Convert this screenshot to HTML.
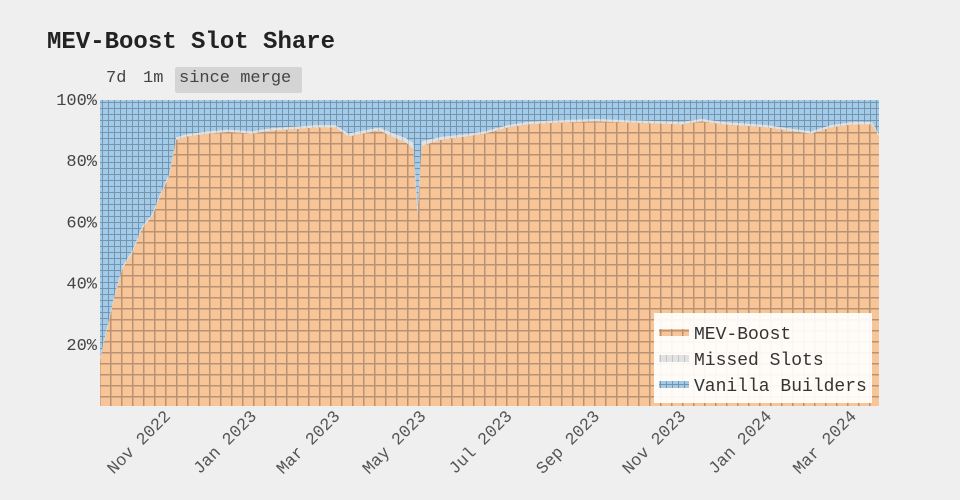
<!DOCTYPE html>
<html><head><meta charset="utf-8">
<style>
body{margin:0;background:#efefef;font-family:"Liberation Mono",monospace;}
#wrap{position:relative;width:960px;height:500px;overflow:hidden;}
#title{position:absolute;left:47px;top:29px;font-size:24px;font-weight:bold;color:#222;}
.btn{position:absolute;top:67px;height:26px;line-height:24px;font-size:17px;color:#444;padding:0 4px;}
</style></head><body>
<div id="wrap">
<div id="title">MEV-Boost Slot Share</div>
<div class="btn" style="left:102px">7d</div>
<div class="btn" style="left:139px">1m</div>
<div class="btn" style="left:175px;background:#d4d4d4;border-radius:2px;width:119px">since merge</div>
<svg id="chart" width="960" height="500" style="position:absolute;left:0;top:0">
<defs>
<pattern id="pBlue" width="6" height="6" patternUnits="userSpaceOnUse"><rect width="6" height="6" fill="#a2cbea"/><path d="M0 0.5H6M0.5 0V6" stroke="#7894ad" stroke-width="1"/></pattern>
<pattern id="pOrange" width="11" height="11" patternUnits="userSpaceOnUse"><rect width="11" height="11" fill="#f8c598"/><path d="M0 0.75H11M0.75 0V11" stroke="#b89272" stroke-width="1.5"/></pattern>
<pattern id="pGray" width="6" height="6" patternUnits="userSpaceOnUse"><rect width="6" height="6" fill="#e2e2e2"/><path d="M0.5 0V6" stroke="#c4c4c4"/></pattern>
</defs>
<g id="plot"></g>
</svg>
</div>
<script>
const dates=["2022-09-15","2022-09-20","2022-09-25","2022-10-01","2022-10-08","2022-10-15","2022-10-22","2022-10-29","2022-11-03","2022-11-08","2022-11-15","2022-12-01","2022-12-15","2023-01-01","2023-01-15","2023-02-01","2023-02-15","2023-03-01","2023-03-10","2023-03-20","2023-04-01","2023-04-10","2023-04-20","2023-04-25","2023-04-28","2023-05-01","2023-05-15","2023-06-01","2023-06-15","2023-07-01","2023-07-15","2023-08-01","2023-09-01","2023-10-01","2023-11-01","2023-11-15","2023-12-01","2024-01-01","2024-01-15","2024-02-01","2024-02-15","2024-03-01","2024-03-15","2024-03-20"];
const mevBoost=[15,25,35,45,50,58,62,70,75,87,88,89,89.5,89,90,90.5,91,91,88,89,90,88,86,84,62,85,87,88,89,91,92,92.5,93,92.5,92,93,92,91,90,89,91,92,92,88];
const missed=[0.8,0.8,0.8,0.8,0.8,0.8,0.8,0.8,0.8,0.8,0.8,0.8,0.8,0.8,0.8,0.8,0.8,0.8,1,1,1,1.2,1.5,2,3,1.5,1,0.8,0.8,0.8,0.8,0.8,0.8,0.8,0.8,0.8,0.8,0.8,0.8,0.8,0.8,0.8,0.8,0.8];
const yTicks=[20,40,60,80,100];
const xTickDates=["2022-11-01","2023-01-01","2023-03-01","2023-05-01","2023-07-01","2023-09-01","2023-11-01","2024-01-01","2024-03-01"];
const xTickLabels=["Nov 2022","Jan 2023","Mar 2023","May 2023","Jul 2023","Sep 2023","Nov 2023","Jan 2024","Mar 2024"];
const L=100,R=879,T=100,B=406;
const t0=Date.parse(dates[0]),t1=Date.parse(dates[dates.length-1]);
const x=d=>L+(Date.parse(d)-t0)/(t1-t0)*(R-L);
const y=v=>B-v/100*(B-T);
const NS="http://www.w3.org/2000/svg";
const g=document.getElementById('plot');
function mk(tag,attrs,parent){const e=document.createElementNS(NS,tag);for(const k in attrs)e.setAttribute(k,attrs[k]);(parent||g).appendChild(e);return e;}
let bg=mk('rect',{x:L,y:T,width:R-L,height:B-T,fill:'url(#pBlue)'});


function area(top,bot){let p='M'+x(dates[0])+' '+y(top[0]);for(let i=1;i<dates.length;i++)p+='L'+x(dates[i])+' '+y(top[i]);for(let i=dates.length-1;i>=0;i--)p+='L'+x(dates[i])+' '+y(bot[i]);return p+'Z';}
const zero=dates.map(()=>0);
const topMiss=mevBoost.map((v,i)=>v+missed[i]);
let ms=mk('path',{d:area(topMiss,mevBoost),fill:'url(#pGray)'});


let mb=mk('path',{d:area(mevBoost,zero),fill:'url(#pOrange)'});


yTicks.forEach(v=>{let t=mk('text',{x:97,y:y(v)+5,'text-anchor':'end','font-size':17,fill:'#444','font-family':'Liberation Mono, monospace'});t.textContent=v+'%';

});
xTickDates.forEach((d,i)=>{const xx=x(d);let t=mk('text',{x:xx+5,y:B+11,'text-anchor':'end','font-size':17,fill:'#555','font-family':'Liberation Mono, monospace',transform:`rotate(-45 ${xx+5} ${B+11})`});t.textContent=xTickLabels[i];

});
const lg=mk('g',{});


mk('rect',{x:654,y:313,width:218,height:90,fill:'#fff',opacity:0.92},lg);
const leg=[["MEV-Boost","url(#pOrange)"],["Missed Slots","url(#pGray)"],["Vanilla Builders","url(#pBlue)"]];
leg.forEach((e,i)=>{const yy=333+i*26;const gi=mk('g',{},lg);


mk('rect',{x:659,y:yy-4,width:30,height:7,fill:e[1]},gi);
let t=mk('text',{x:694,y:yy+6,'font-size':18,fill:'#333','font-family':'Liberation Mono, monospace'},gi);t.textContent=e[0];});
</script>
</body></html>
